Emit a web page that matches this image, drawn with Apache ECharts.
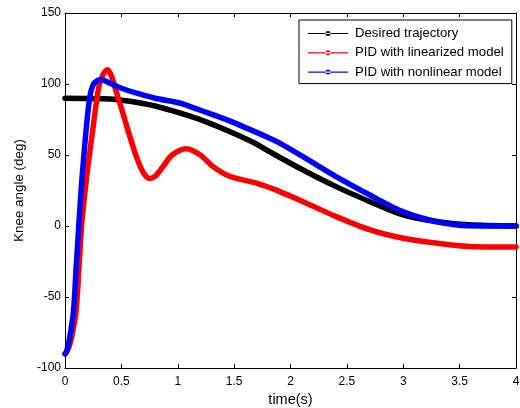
<!DOCTYPE html>
<html>
<head>
<meta charset="utf-8">
<script src="https://cdn.jsdelivr.net/npm/echarts@6/dist/echarts.min.js"></script>
<style>
html,body{margin:0;padding:0;background:#fff;}
#c{width:520px;height:408px;}
</style>
</head>
<body>
<div id="c"></div>
<script>
var seriesNames = ['Desired trajectory', 'PID with linearized model', 'PID with nonlinear model'];
var xTicks = [0, 0.5, 1, 1.5, 2, 2.5, 3, 3.5, 4];
var yTicks = [-100, -50, 0, 50, 100, 150];

var desiredT = [0, 0.4, 0.575, 0.8, 1.017, 1.24, 1.46, 1.68, 1.81, 2.107, 2.4, 2.7, 2.99, 3.29, 3.58, 4];
var desiredY = [90, 89.5, 87.8, 84.5, 79.6, 73.7, 66.5, 58.4, 52.5, 39.6, 27.9, 17.3, 8, 3.2, 0.8, 0];

var linT = [0, 0.02, 0.04, 0.06, 0.097, 0.125, 0.147, 0.19, 0.25, 0.3, 0.34, 0.377, 0.41, 0.457, 0.5, 0.545, 0.595, 0.643, 0.7, 0.75, 0.8, 0.87, 0.95, 1.076, 1.2, 1.31, 1.46, 1.69, 1.9, 2.107, 2.4, 2.7, 2.99, 3.29, 3.58, 4];
var linY = [-90, -88, -84, -78, -61, -28, 0, 33, 70, 98, 107, 110, 106, 94, 83, 71, 58, 46.7, 37, 33.5, 35, 42, 50, 54.4, 50, 42, 35, 30.3, 24.4, 17.3, 6.8, -2.6, -8.5, -12, -14.4, -14.8];

var nonT = [0, 0.015, 0.038, 0.074, 0.1, 0.122, 0.15, 0.19, 0.22, 0.25, 0.29, 0.325, 0.4, 0.5, 0.66, 0.8, 1.017, 1.2, 1.46, 1.81, 1.9, 2.107, 2.4, 2.7, 2.99, 3.29, 3.58, 4];
var nonY = [-90, -88, -80, -61, -28, 0, 33, 70, 91, 99.5, 102.5, 103, 100.5, 97, 93, 90, 86.6, 81.5, 74, 62, 58.5, 49, 35, 22, 10.3, 3.2, 0.2, 0];

var colors = ['#000000', '#ff0000', '#0000ff'];

function pairs(t, y) { return t.map(function (v, i) { return [v, y[i]]; }); }

var legendIcon = 'path://M0,1.9H40V3.1H0Z M17.5,2.5A2.5,2.5 0 1,0 22.5,2.5A2.5,2.5 0 1,0 17.5,2.5Z';

var font = 'Liberation Sans, Arial, sans-serif';
var chart = echarts.init(document.getElementById('c'), null, {renderer: 'canvas'});
var baseAxisX = {
  type: 'value', min: xTicks[0], max: xTicks[xTicks.length - 1], interval: 0.5,
  axisLine: {show: true, onZero: false, lineStyle: {color: '#000', width: 1}},
  axisTick: {show: true, inside: true, length: 4, lineStyle: {color: '#000'}},
  splitLine: {show: false}
};
var baseAxisY = {
  type: 'value', min: yTicks[0], max: yTicks[yTicks.length - 1], interval: 50,
  axisLine: {show: true, onZero: false, lineStyle: {color: '#000', width: 1}},
  axisTick: {show: true, inside: true, length: 4, lineStyle: {color: '#000'}},
  splitLine: {show: false}
};
var option = {
  animation: false,
  backgroundColor: '#fff',
  textStyle: {fontFamily: font},
  grid: {left: 65, right: 4, top: 13, bottom: 40, containLabel: false, outerBoundsMode: 'none'},
  xAxis: [
    Object.assign({}, baseAxisX, {
      position: 'bottom',
      name: 'time(s)', nameLocation: 'middle', nameGap: 24,
      nameTextStyle: {color: '#000', fontSize: 14.5, fontFamily: font},
      axisLabel: {color: '#000', fontSize: 12, fontFamily: font, margin: 8}
    }),
    Object.assign({}, baseAxisX, {position: 'top', axisLabel: {show: false}})
  ],
  yAxis: [
    Object.assign({}, baseAxisY, {
      position: 'left',
      name: 'Knee angle (deg)', nameLocation: 'middle', nameGap: 34, nameRotate: 90,
      nameTextStyle: {color: '#000', fontSize: 13.4, fontFamily: font},
      axisLabel: {color: '#000', fontSize: 12, fontFamily: font, margin: 4}
    }),
    Object.assign({}, baseAxisY, {position: 'right', axisLabel: {show: false}})
  ],
  legend: {
    orient: 'vertical', left: 299, top: 20,
    padding: [7, 8, 5, 9], itemGap: 6.3,
    itemWidth: 40, itemHeight: 5,
    backgroundColor: '#fff', borderColor: '#000', borderWidth: 1,
    textStyle: {color: '#000', fontSize: 13.2, fontFamily: font, padding: [0, 0, 0, 2]},
    data: seriesNames.map(function (n) { return {name: n, icon: legendIcon}; })
  },
  series: [
    {name: seriesNames[0], data: pairs(desiredT, desiredY)},
    {name: seriesNames[1], data: pairs(linT, linY)},
    {name: seriesNames[2], data: pairs(nonT, nonY)}
  ].map(function (s, i) {
    return Object.assign(s, {
      type: 'line', smooth: 0.3, showSymbol: false, symbol: 'none',
      color: colors[i],
      lineStyle: {color: colors[i], width: 5.5, cap: 'round', join: 'round'},
      itemStyle: {color: colors[i]}
    });
  })
};
chart.setOption(option);
</script>
</body>
</html>
